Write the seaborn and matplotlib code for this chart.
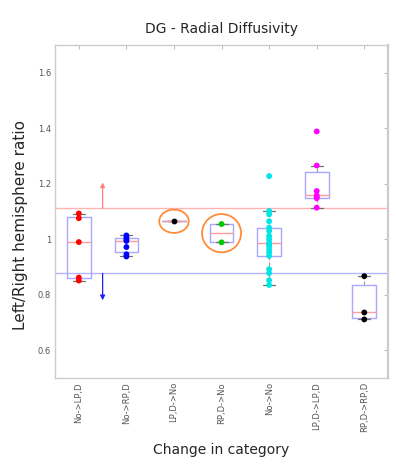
import numpy as np
import pandas as pd
import matplotlib
matplotlib.use("Agg")
import matplotlib as mpl
import matplotlib.pyplot as plt
from matplotlib.patches import Ellipse
import seaborn as sns

# ---------------- data ----------------
categories = ["No->LP,D", "No->RP,D", "LP,D->No", "RP,D->No", "No->No", "LP,D->LP,D", "RP,D->RP,D"]
no_lpd = [0.851, 0.862, 0.990, 1.076, 1.093]
no_rpd = [0.938, 0.946, 0.972, 0.994, 0.998, 1.006, 1.014]
lpd_no = [1.065]
rpd_no = [0.989, 1.055]
no_no = [0.835, 0.852, 0.878, 0.892, 0.940, 0.952, 0.963, 0.975, 0.982,
         0.988, 1.000, 1.012, 1.030, 1.042, 1.065, 1.090, 1.102, 1.228]
lpd_lpd = [1.114, 1.148, 1.152, 1.158, 1.174, 1.266, 1.389]
rpd_rpd = [0.711, 0.736, 0.867]
series = [no_lpd, no_rpd, lpd_no, rpd_no, no_no, lpd_lpd, rpd_rpd]
point_colors = ["#ff0000", "#0000ff", "#000000", "#00c800", "#00e5e5", "#ff00ff", "#000000"]
upper_threshold = 1.112
lower_threshold = 0.877
yticks = [0.6, 0.8, 1.0, 1.2, 1.4, 1.6]
ytick_labels = ["0.6", "0.8", "1", "1.2", "1.4", "1.6"]
highlighted = ["LP,D->No", "RP,D->No"]

df = pd.DataFrame({
    "category": np.repeat(categories, [len(s) for s in series]),
    "ratio": np.concatenate(series),
})

# MATLAB-style (midpoint / hazen) quartiles for the boxes
_orig_stats = mpl.cbook.boxplot_stats
def _midpoint_stats(X, whis=1.5, bootstrap=None, labels=None, autorange=False):
    stats = _orig_stats(X, whis=whis, bootstrap=bootstrap, labels=labels, autorange=autorange)
    for st, x in zip(stats, X):
        x = np.asarray(x, float)
        q1, med, q3 = np.percentile(x, [25, 50, 75], method="hazen")
        iqr = q3 - q1
        hi = x[x <= q3 + whis * iqr].max()
        lo = x[x >= q1 - whis * iqr].min()
        st.update(q1=q1, med=med, q3=q3, iqr=iqr, whishi=hi, whislo=lo,
                  fliers=x[(x < lo) | (x > hi)])
    return stats
mpl.cbook.boxplot_stats = _midpoint_stats

# ---------------- figure ----------------
sns.set_theme(style="white")
plt.rcParams["font.family"] = ["DejaVu Sans"]

fig = plt.figure(figsize=(3.96, 4.66), dpi=100)
ax = fig.add_axes([0.139, 0.189, 0.841, 0.714])

ax.axhline(upper_threshold, color="#ffb4b4", lw=1.0, zorder=1)
ax.axhline(lower_threshold, color="#b4b4ff", lw=1.0, zorder=1)

sns.boxplot(data=df, x="category", y="ratio", order=categories, ax=ax,
            fill=False, width=0.5, showfliers=False, whis=1.5,
            boxprops=dict(color="#a8a8ff", linewidth=1.0),
            medianprops=dict(color="#ff9c9c", linewidth=1.0),
            whiskerprops=dict(color="#a0a0a0", linewidth=0.8, linestyle="--"),
            capprops=dict(color="#707070", linewidth=0.9))

sns.stripplot(data=df, x="category", y="ratio", order=categories, hue="category",
              palette=dict(zip(categories, point_colors)), jitter=False, size=4.2,
              linewidth=0, legend=False, ax=ax, zorder=5)

# arrows showing thresholds
ax.annotate("", xy=(0.5, 1.205), xytext=(0.5, upper_threshold),
            arrowprops=dict(arrowstyle="-|>", color="#ff8080", lw=0.9,
                            mutation_scale=7, shrinkA=0, shrinkB=0))
ax.annotate("", xy=(0.5, 0.78), xytext=(0.5, lower_threshold),
            arrowprops=dict(arrowstyle="-|>", color="#2020ff", lw=0.9,
                            mutation_scale=7, shrinkA=0, shrinkB=0))

# highlight ellipses
for cat, w, h in [(highlighted[0], 0.62, 0.084), (highlighted[1], 0.82, 0.138)]:
    i = categories.index(cat)
    vals = series[i]
    cy = (min(vals) + max(vals)) / 2
    ax.add_patch(Ellipse((i, cy), w, h, fill=False, edgecolor="#ff8c3a", lw=1.3, zorder=6))

ax.set_xlim(-0.5, len(categories) - 0.5)
ax.set_ylim(0.5, 1.7)
ax.set_yticks(yticks)
ax.set_yticklabels(ytick_labels)
ax.set_xticks(range(len(categories)))
ax.set_xticklabels(categories, rotation=90)

ax.tick_params(direction="in", top=True, right=True, length=3, width=0.6,
               color="#b0b0b0", labelsize=6, labelcolor="#555555", pad=3)
for s in ax.spines.values():
    s.set_color("#cccccc")
    s.set_linewidth(1.0)
ax.spines["right"].set_linewidth(1.6)

ax.set_title("DG - Radial Diffusivity", fontsize=10, pad=9)
ax.set_xlabel("Change in category", fontsize=10, labelpad=8)
ax.set_ylabel("Left/Right hemisphere ratio", fontsize=11)
ax.yaxis.set_label_coords(-0.08, 0.46)

fig.savefig("out.png", dpi=100)
